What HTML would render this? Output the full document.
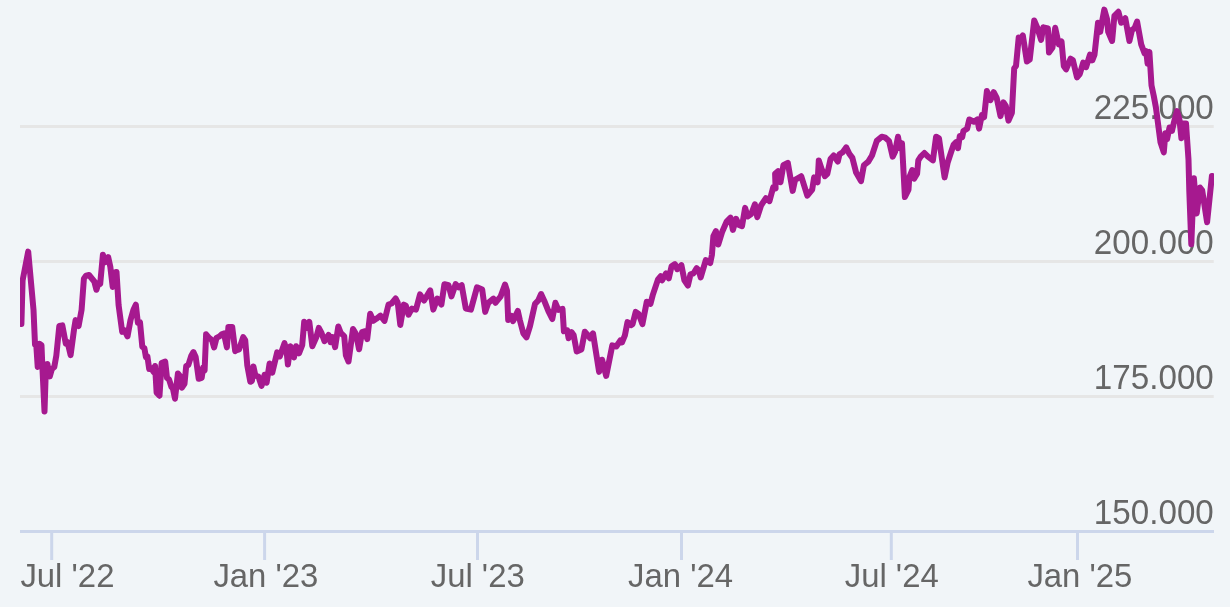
<!DOCTYPE html>
<html><head><meta charset="utf-8"><title>Chart</title>
<style>
html,body{margin:0;padding:0;background:#f1f5f8;}
body{width:1230px;height:607px;overflow:hidden;}
svg{display:block;font-family:"Liberation Sans",Arial,Helvetica,sans-serif;}
text{fill:#666666;}
g{font-size:33.2px;}
</style></head><body>
<svg width="1230" height="607" viewBox="0 0 1230 607">
<rect x="0" y="0" width="1230" height="607" fill="#f1f5f8"/>
<defs><clipPath id="plot"><rect x="20" y="0" width="1193.8" height="533"/></clipPath></defs>
<g stroke="#e6e6e6" stroke-width="3" fill="none">
<path d="M 20 126.5 L 1213.7 126.5"/>
<path d="M 20 261.5 L 1213.7 261.5"/>
<path d="M 20 396.5 L 1213.7 396.5"/>
</g>
<g stroke="#ccd6eb" stroke-width="3" fill="none">
<path d="M 20 531.5 L 1214 531.5"/>
<path d="M 51.7 530 L 51.7 560"/>
<path d="M 264.6 530 L 264.6 560"/>
<path d="M 477.5 530 L 477.5 560"/>
<path d="M 681.5 530 L 681.5 560"/>
<path d="M 891.3 530 L 891.3 560"/>
<path d="M 1077.5 530 L 1077.5 560"/>
</g>
<g text-anchor="end" style="will-change:transform">
<text transform="translate(1213.8,118.7) scale(1,1.03)">225.000</text>
<text transform="translate(1213.8,253.7) scale(1,1.03)">200.000</text>
<text transform="translate(1213.8,388.7) scale(1,1.03)">175.000</text>
<text transform="translate(1213.8,523.9) scale(1,1.03)">150.000</text>
</g>
<g text-anchor="middle" style="will-change:transform;font-size:32.9px">
<text transform="translate(20.4,587.2) scale(1,1.03)" text-anchor="start">Jul '22</text>
<text transform="translate(265.9,587.2) scale(1,1.03)">Jan '23</text>
<text transform="translate(477.7,587.2) scale(1,1.03)">Jul '23</text>
<text transform="translate(680.6,587.2) scale(1,1.03)">Jan '24</text>
<text transform="translate(891.7,587.2) scale(1,1.03)">Jul '24</text>
<text transform="translate(1079.9,587.2) scale(1,1.03)">Jan '25</text>
</g>
<path d="M 21.4 323.9 L 22.6 280.5 L 28.2 251.6 L 33.5 309.7 L 35.0 344.4 L 36.2 343.8 L 37.7 366.9 L 39.4 343.8 L 41.5 345.3 L 42.4 367.5 L 44.5 411.4 L 46.0 364.6 L 47.4 364.0 L 49.8 376.4 L 51.9 369.0 L 54.3 366.9 L 56.3 355.7 L 59.3 326.0 L 62.3 325.4 L 65.8 343.8 L 67.6 342.3 L 70.6 355.1 L 74.1 329.0 L 75.6 320.1 L 78.6 326.0 L 81.6 309.7 L 83.9 278.6 L 86.0 275.6 L 89.0 275.0 L 94.3 281.5 L 96.4 289.8 L 98.5 283.0 L 100.2 283.9 L 102.9 254.8 L 105.3 262.2 L 108.2 257.2 L 110.3 266.7 L 112.7 286.9 L 114.2 272.6 L 116.5 272.0 L 118.6 305.2 L 122.2 331.9 L 124.6 330.5 L 127.5 336.4 L 130.5 320.1 L 133.5 309.7 L 135.8 304.7 L 137.9 323.0 L 140.0 322.4 L 142.3 346.8 L 144.4 348.2 L 145.9 357.1 L 147.4 356.3 L 149.2 369.0 L 151.2 368.1 L 153.6 372.0 L 155.1 366.0 L 156.6 392.7 L 159.5 395.7 L 161.6 363.1 L 165.2 361.6 L 167.0 377.9 L 169.0 379.4 L 171.4 386.8 L 172.9 388.3 L 175.0 398.7 L 177.9 373.5 L 180.3 376.4 L 181.8 387.7 L 184.5 383.8 L 186.2 366.0 L 188.3 365.1 L 191.3 355.7 L 193.4 352.1 L 195.7 357.1 L 198.7 378.8 L 201.7 377.9 L 203.1 367.5 L 204.6 370.5 L 206.1 334.3 L 209.1 337.9 L 212.0 340.2 L 214.1 347.4 L 216.5 337.9 L 219.5 336.4 L 221.8 334.3 L 223.9 333.4 L 226.9 347.4 L 228.4 326.9 L 232.2 326.9 L 235.2 351.2 L 236.1 350.3 L 239.1 349.3 L 243.2 337.1 L 245.2 340.1 L 247.3 365.5 L 250.3 381.8 L 252.0 380.8 L 253.4 366.5 L 255.4 375.7 L 258.5 376.7 L 261.5 385.9 L 264.6 374.7 L 266.6 382.8 L 269.6 363.5 L 272.3 372.6 L 274.7 362.5 L 277.2 352.3 L 279.8 356.4 L 284.5 343.2 L 286.5 350.3 L 287.9 364.5 L 290.4 346.2 L 294.0 357.4 L 296.1 346.2 L 299.1 353.3 L 302.2 345.2 L 304.2 321.8 L 307.2 327.9 L 309.3 321.8 L 312.3 346.2 L 316.4 337.1 L 318.8 327.9 L 321.5 333.0 L 324.5 341.1 L 328.6 335.0 L 330.6 342.2 L 332.6 337.1 L 335.1 347.2 L 338.3 326.5 L 340.8 333.0 L 344.2 336.1 L 345.9 355.4 L 348.5 361.5 L 353.0 328.9 L 356.0 334.0 L 359.1 349.3 L 362.1 332.0 L 365.2 331.0 L 367.2 339.1 L 370.2 313.7 L 373.3 320.8 L 376.3 318.8 L 380.4 315.7 L 384.5 320.8 L 388.5 304.6 L 391.6 303.5 L 395.7 298.5 L 397.7 302.5 L 400.3 324.9 L 403.8 304.6 L 405.8 305.6 L 408.5 314.7 L 411.9 308.6 L 416.0 309.6 L 420.0 294.4 L 424.1 300.5 L 430.2 290.3 L 433.3 309.6 L 437.3 298.5 L 441.4 304.6 L 444.4 284.2 L 448.5 285.2 L 451.5 296.4 L 455.6 284.2 L 458.7 287.3 L 461.7 285.2 L 465.8 308.6 L 470.9 309.6 L 477.0 287.3 L 482.2 289.6 L 485.2 311.9 L 488.3 302.8 L 493.4 298.7 L 495.4 302.8 L 500.5 296.7 L 505.0 284.5 L 507.0 290.6 L 508.2 320.0 L 511.7 316.0 L 513.1 321.1 L 517.8 310.9 L 519.8 320.0 L 523.3 333.3 L 526.5 337.3 L 530.0 326.1 L 535.0 303.8 L 538.1 300.7 L 541.1 294.0 L 544.2 300.7 L 548.3 310.9 L 552.3 319.0 L 555.4 302.8 L 558.4 309.9 L 562.5 308.9 L 563.9 331.2 L 567.2 330.2 L 568.6 338.3 L 571.6 332.2 L 573.7 335.3 L 576.7 351.5 L 581.4 349.5 L 584.8 331.8 L 587.9 335.3 L 590.3 338.3 L 593.0 333.3 L 599.1 371.9 L 602.1 359.7 L 606.2 375.9 L 612.3 345.4 L 616.3 346.5 L 620.4 340.4 L 622.0 342.4 L 624.9 335.3 L 627.5 322.1 L 631.0 325.1 L 632.6 324.1 L 635.7 311.9 L 638.7 313.9 L 642.4 324.1 L 646.8 301.7 L 650.5 303.8 L 652.9 294.6 L 658.0 279.4 L 660.7 276.3 L 662.1 280.4 L 666.1 273.3 L 668.8 278.4 L 671.6 266.2 L 674.9 264.1 L 677.3 269.2 L 681.4 265.2 L 684.4 280.4 L 687.9 285.5 L 690.5 274.3 L 693.6 273.3 L 696.6 268.2 L 698.7 270.2 L 700.7 277.4 L 705.8 260.1 L 710.2 263.1 L 711.9 255.0 L 713.4 236.0 L 715.9 231.1 L 718.3 244.5 L 722.0 232.3 L 726.8 221.3 L 730.5 217.7 L 732.9 229.9 L 736.1 218.9 L 739.0 225.0 L 742.0 226.2 L 745.1 207.9 L 747.6 216.5 L 751.2 214.0 L 754.9 204.3 L 757.3 217.2 L 761.0 205.5 L 765.9 198.2 L 769.5 201.1 L 773.2 187.2 L 775.6 188.4 L 775.1 173.8 L 778.0 171.3 L 780.5 182.3 L 783.4 165.2 L 787.8 162.8 L 792.7 190.9 L 795.1 179.9 L 801.2 176.2 L 807.3 195.7 L 812.2 189.6 L 814.1 177.4 L 817.6 182.3 L 818.8 160.4 L 822.0 170.1 L 824.9 176.2 L 827.3 173.8 L 830.5 159.1 L 833.7 155.5 L 837.8 161.6 L 839.5 154.3 L 842.7 152.3 L 846.3 147.4 L 849.3 153.8 L 852.4 157.9 L 856.1 172.6 L 861.0 181.1 L 863.9 165.2 L 868.3 161.6 L 872.0 155.5 L 876.8 140.9 L 881.7 136.7 L 885.4 137.7 L 889.0 140.9 L 892.7 156.7 L 895.1 151.8 L 898.0 136.7 L 900.0 148.2 L 902.0 143.3 L 904.9 197.0 L 908.5 189.6 L 909.3 177.4 L 912.2 170.1 L 914.1 178.7 L 917.1 173.8 L 918.3 160.4 L 920.7 156.7 L 924.4 153.0 L 928.0 156.7 L 932.9 160.4 L 936.1 136.7 L 939.0 138.4 L 944.6 177.4 L 947.6 162.8 L 951.2 151.8 L 953.7 144.5 L 956.1 142.1 L 958.0 148.2 L 959.8 136.0 L 962.2 137.2 L 963.4 131.1 L 967.1 128.7 L 969.3 119.5 L 973.9 121.8 L 977.3 119.5 L 979.1 128.6 L 981.9 115.0 L 984.1 117.2 L 986.9 91.1 L 990.5 100.2 L 993.7 92.2 L 996.7 97.9 L 1000.5 116.1 L 1003.5 102.4 L 1005.8 105.9 L 1008.5 120.6 L 1011.9 112.7 L 1014.2 68.3 L 1016.0 66.0 L 1018.7 37.6 L 1021.0 38.7 L 1022.8 35.3 L 1026.9 61.5 L 1029.7 59.6 L 1034.2 20.5 L 1037.6 28.5 L 1041.1 39.8 L 1043.3 27.3 L 1047.9 28.5 L 1049.0 52.4 L 1052.4 47.8 L 1055.2 27.8 L 1058.8 44.4 L 1061.5 41.4 L 1063.8 66.0 L 1066.1 69.4 L 1070.6 58.7 L 1072.9 60.3 L 1077.0 77.4 L 1079.8 74.0 L 1083.2 62.6 L 1086.1 67.2 L 1090.0 54.6 L 1092.3 60.3 L 1094.5 54.6 L 1098.0 22.8 L 1100.2 31.9 L 1104.3 9.6 L 1107.1 19.3 L 1108.2 31.9 L 1112.1 41.0 L 1114.4 15.9 L 1118.4 11.8 L 1121.2 22.8 L 1125.3 18.2 L 1129.4 41.0 L 1132.1 29.6 L 1134.4 28.5 L 1137.1 21.6 L 1141.2 44.4 L 1144.6 53.5 L 1146.2 51.2 L 1147.6 63.7 L 1149.4 51.9 L 1151.5 85.4 L 1153.7 95.6 L 1155.9 107.4 L 1160.5 142.4 L 1163.8 152.3 L 1165.4 133.3 L 1167.1 139.1 L 1169.5 127.5 L 1172.0 130.8 L 1173.7 123.4 L 1177.0 111.1 L 1179.4 119.3 L 1181.4 138.3 L 1183.0 123.4 L 1186.0 123.4 L 1188.5 159.8 L 1189.3 191.2 L 1191.3 244.2 L 1193.9 178.3 L 1196.7 213.4 L 1200.0 187.6 L 1202.2 190.4 L 1207.1 222.2 L 1211.9 176.0 L 1213.4 176.4" fill="none" stroke="#a6198f" stroke-width="6" clip-path="url(#plot)" stroke-linejoin="round" stroke-linecap="round"/>
</svg></body></html>
